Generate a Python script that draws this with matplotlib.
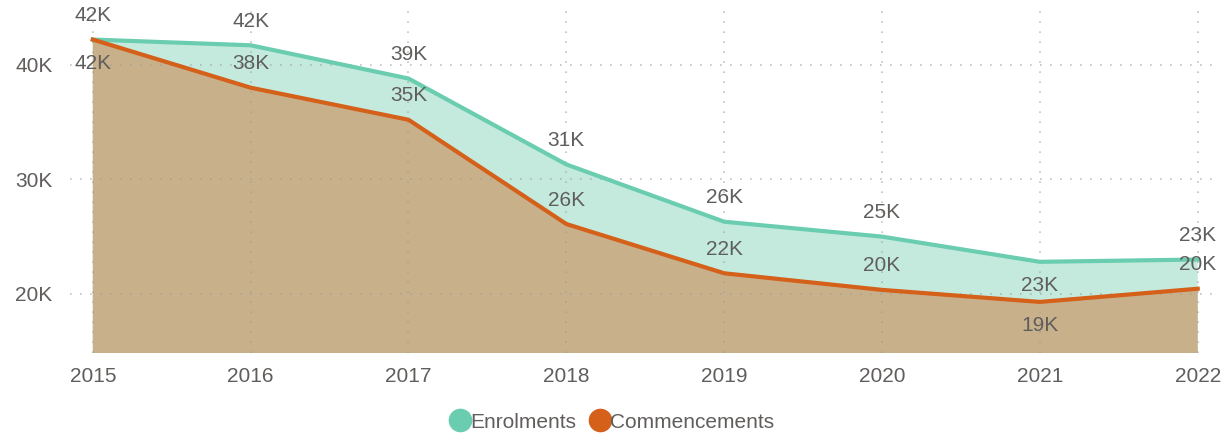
import matplotlib.pyplot as plt
from matplotlib.lines import Line2D

years = [2015, 2016, 2017, 2018, 2019, 2020, 2021, 2022]
enrolments = [42.2, 41.7, 38.8, 31.3, 26.3, 25.0, 22.8, 23.0]
commencements = [42.2, 38.0, 35.2, 26.1, 21.8, 20.35, 19.3, 20.45]
# label above (+1) or below (-1) the point
enrol_side = [1, 1, 1, 1, 1, 1, -1, 1]
comm_side = [-1, 1, 1, 1, 1, 1, -1, 1]

enrol_line = '#6acdb0'
enrol_fill = '#c4eade'
comm_line = '#d4601a'
comm_fill = '#c8b08b'
txt = '#605e5c'

plt.rcParams['font.family'] = ['Liberation Sans', 'DejaVu Sans']

fig = plt.figure(figsize=(12.24, 4.33), dpi=100)
ax = fig.add_axes([0.057, 0.185, 0.933, 0.803])

ax.fill_between(years, 0, enrolments, color=enrol_fill, lw=0, zorder=1)
ax.fill_between(years, 0, commencements, color=comm_fill, lw=0, zorder=2)
ax.plot(years, enrolments, color=enrol_line, lw=3, zorder=4, solid_joinstyle='round')
ax.plot(years, commencements, color=comm_line, lw=3, zorder=5, solid_joinstyle='round')

for x, v, s in zip(years, enrolments, enrol_side):
    ax.annotate(f"{round(v)}K", (x, v), xytext=(0, 24 * s), textcoords='offset pixels',
                ha='center', va='center', fontsize=15, color=txt, zorder=6)
for x, v, s in zip(years, commencements, comm_side):
    ax.annotate(f"{round(v)}K", (x, v), xytext=(0, 24 * s), textcoords='offset pixels',
                ha='center', va='center', fontsize=15, color=txt, zorder=6)

ax.set_xlim(2014.854, 2022.089)
ax.set_ylim(14.85, 45.2)
ax.set_xticks(years)
ax.set_yticks([20, 30, 40])
ax.set_yticklabels(['20K', '30K', '40K'])
ax.tick_params(length=0, labelsize=15, labelcolor=txt)
ax.tick_params(axis='y', pad=12.5)
ax.tick_params(axis='x', pad=10)
ax.grid(True, color='#9a9a9a', alpha=0.6, linestyle=(0, (1, 5)), lw=1.2, zorder=3)
ax.set_axisbelow(False)
for sp in ax.spines.values():
    sp.set_visible(False)

handles = [
    Line2D([], [], marker='o', ls='', markersize=16, color=enrol_line),
    Line2D([], [], marker='o', ls='', markersize=16, color=comm_line),
]
fig.legend(handles, ['Enrolments', 'Commencements'], loc='lower center',
           bbox_to_anchor=(0.5, -0.04), ncol=2, frameon=False, fontsize=15,
           labelcolor=txt, handletextpad=0.0, columnspacing=0.6, handlelength=1.0)

fig.savefig('out.png', dpi=100)
